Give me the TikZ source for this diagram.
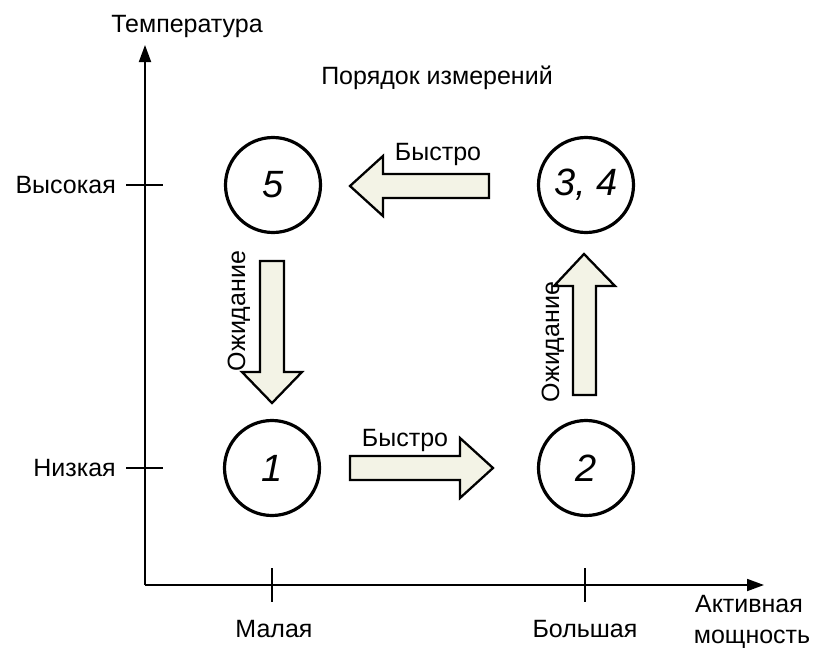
\documentclass[tikz,border=0pt]{standalone}
\usepackage{fontspec}
\setmainfont{Liberation Sans}
\usetikzlibrary{arrows.meta}
\definecolor{arrfill}{HTML}{F3F3E6}
\begin{document}
\begin{tikzpicture}[x=1pt,y=-1pt,
  lbl/.style={font=\fontsize{25}{30}\selectfont, inner sep=0pt, anchor=base},
  state/.style={circle, draw, line width=3.2pt, minimum size=95pt, inner sep=0pt, font=\itshape\fontsize{38}{40}\selectfont},
  blockarr/.style={draw, line width=2.3pt, fill=arrfill, line join=miter},
  axis/.style={line width=1.8pt, -{Triangle[length=17pt,width=12pt]}},
  tick/.style={line width=1.6pt}]
\useasboundingbox (0,0) rectangle (815,649);
% axes
\coordinate (O) at (145,585);
\coordinate (ytop) at (145,45);
\coordinate (xend) at (764,585);
\draw[axis] (O) -- (ytop);
\draw[axis] (O) -- (xend);
% ticks
\coordinate (xt1a) at (272,568); \coordinate (xt1b) at (272,602);
\coordinate (xt2a) at (585,568); \coordinate (xt2b) at (585,602);
\coordinate (yt1a) at (126,185); \coordinate (yt1b) at (163,185);
\coordinate (yt2a) at (126,468); \coordinate (yt2b) at (163,468);
\draw[tick] (xt1a) -- (xt1b);
\draw[tick] (xt2a) -- (xt2b);
\draw[tick] (yt1a) -- (yt1b);
\draw[tick] (yt2a) -- (yt2b);
% axis labels
\node[lbl] (ttl) at (187,32) {Температура};
\node[lbl] (order) at (437,84) {Порядок измерений};
\node[lbl, anchor=base east] (high) at (116,193) {Высокая};
\node[lbl, anchor=base east] (low) at (116,476) {Низкая};
\node[lbl] (small) at (274,637) {Малая};
\node[lbl] (big) at (585,637) {Большая};
\node[lbl] (power1) at (749,612) {Активная};
\node[lbl] (power2) at (752,643) {мощность};
% states
\node[state] (s5) at (273,185) {5};
\node[state] (s34) at (586,185) {3, 4};
\node[state] (s1) at (272,468) {1};
\node[state] (s2) at (586,468) {2};
% block arrows
% left (top)
\draw[blockarr] (489,174) -- (383,174) -- (383,156) -- (350,186) -- (383,216) -- (383,198) -- (489,198) -- cycle;
% right (bottom)
\draw[blockarr] (350,456) -- (460,456) -- (460,438) -- (493,468) -- (460,498) -- (460,480) -- (350,480) -- cycle;
% down (left)
\draw[blockarr] (260,261) -- (260,372) -- (242,372) -- (272,403) -- (302,372) -- (284,372) -- (284,261) -- cycle;
% up (right)
\draw[blockarr] (573,395) -- (573,286) -- (554,286) -- (584,254) -- (615,286) -- (596,286) -- (596,395) -- cycle;
% arrow labels
\node[lbl] (fast1) at (438,160) {Быстро};
\node[lbl] (fast2) at (405,446) {Быстро};
\node[lbl, rotate=90] (wait1) at (245,311) {Ожидание};
\node[lbl, rotate=90] (wait2) at (559,342) {Ожидание};
\end{tikzpicture}
\end{document}
